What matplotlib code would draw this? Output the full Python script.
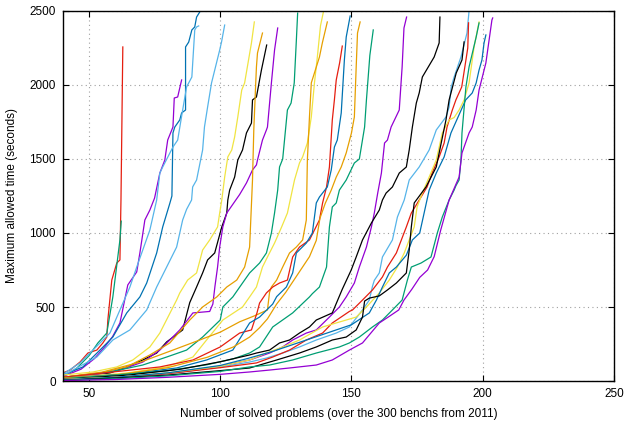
import numpy as np
import matplotlib.pyplot as plt

plt.rcParams['font.family'] = ['Liberation Sans', 'DejaVu Sans']

# Colores por defecto de gnuplot
PURPLE = '#9400d3'
GREEN = '#009e73'
SKY = '#56b4e9'
ORANGE = '#e69f00'
YELLOW = '#f0e442'
BLUE = '#0072b2'
RED = '#e51e10'
BLACK = '#000000'

# Curvas (numero de problemas resueltos, tiempo maximo en segundos)
red1_x = [40, 42.8, 46.6, 49.6, 53, 55.3, 56.8, 57.2, 58.7, 60.6, 61.8, 62.2, 62.9]
red1_y = [54, 74, 128, 189, 209, 257, 297, 412, 682, 797, 818, 1223, 2257]

green1_x = [40, 45, 50, 53.4, 56.8, 59.1, 61.8, 62.3]
green1_y = [30, 80, 170, 257, 324, 568, 953, 1080]

purple1_x = [40, 47, 52, 56, 59, 61.8, 64.8, 68.2, 69.4, 71.3, 73.2, 75, 77, 78.9, 80, 82, 82.5, 83.8, 85.3]
purple1_y = [30, 80, 150, 230, 300, 392, 649, 737, 865, 1088, 1155, 1236, 1405, 1493, 1628, 1716, 1912, 1919, 2034]

blue1_x = [40, 47.7, 54.2, 59.1, 64.4, 69.4, 72, 75.8, 78.1, 80.8, 81.6, 82, 82.7, 84.6, 85.3, 86.8, 86.8, 88, 89.2, 90.3, 91, 92.2]
blue1_y = [40, 95, 209, 297, 460, 568, 662, 865, 1041, 1200, 1250, 1676, 1716, 1764, 1811, 1831, 2257, 2290, 2372, 2392, 2459, 2493]

sky1_x = [40, 46.6, 51.5, 58, 61.8, 65.6, 68.2, 70.5, 73.2, 75.8, 77, 78.1, 82, 83.8, 85.7, 87.2, 89.2, 90.3, 91, 91.8]
sky1_y = [45, 122, 209, 324, 480, 635, 770, 885, 1020, 1223, 1405, 1446, 1581, 1628, 1831, 1987, 2054, 2372, 2392, 2399]

sky2_x = [40, 43.9, 53, 59.1, 65.6, 72, 75.8, 79.6, 83.4, 85.7, 87.2, 89.1, 89.5, 91, 93.3, 94, 95.2, 96.7, 99.8, 100.5, 101.7]
sky2_y = [35, 74, 162, 277, 345, 480, 635, 770, 905, 1088, 1160, 1223, 1311, 1358, 1561, 1716, 1851, 2014, 2236, 2290, 2405]

yellow1_x = [40, 51.5, 60.6, 66.7, 73.2, 77, 83.4, 84.6, 87.6, 91, 93.3, 96, 99, 99.8, 100.6, 101.7, 102.9, 104.4, 105.5, 106.7, 108.2, 109.3, 111.9, 113]
yellow1_y = [40, 61, 95, 142, 230, 324, 547, 595, 682, 730, 885, 953, 1041, 1135, 1223, 1378, 1514, 1561, 1649, 1784, 1966, 2014, 2284, 2426]

black1_x = [40, 58, 64.4, 70.5, 75.8, 79.6, 85.7, 88.4, 91, 93.3, 95.2, 97.9, 100.6, 102.5, 102.9, 103.6, 105.5, 106.7, 108.5, 110, 111.9, 112.3, 113.8, 115.7, 117.7]
black1_y = [25, 54, 95, 142, 189, 264, 345, 530, 635, 730, 818, 865, 1041, 1135, 1223, 1290, 1378, 1493, 1561, 1676, 1743, 1899, 1919, 2101, 2270]

purple2_x = [40, 51.5, 61.8, 70.5, 77, 84.6, 89.6, 96, 97.2, 98, 99, 99.8, 101, 102.5, 107.4, 110, 112.3, 113.8, 114.2, 116.1, 117.6, 118, 119.5, 120.7, 121.9]
purple2_y = [20, 40, 74, 128, 209, 345, 460, 470, 520, 640, 770, 905, 1041, 1135, 1260, 1338, 1426, 1460, 1493, 1628, 1696, 1716, 2014, 2236, 2385]

orange1_x = [40, 54.2, 64.4, 73.2, 80.8, 88.4, 92.2, 93.3, 98.7, 102.5, 106.3, 109.3, 111.2, 112.3, 112.8, 113.5, 113.8, 114.2, 116.1]
orange1_y = [25, 54, 95, 176, 257, 412, 480, 500, 568, 635, 682, 770, 905, 1358, 1700, 2000, 2122, 2216, 2351]

green2_x = [40, 58, 70.5, 79.6, 87.2, 93.3, 100, 101, 104.8, 108.5, 111.2, 115, 117.6, 119.5, 120.7, 121.9, 122.6, 123.8, 125.6, 127, 128.2, 129, 129.5]
green2_y = [25, 61, 108, 162, 209, 297, 412, 500, 568, 662, 730, 797, 865, 1000, 1135, 1290, 1446, 1500, 1831, 1878, 2014, 2300, 2486]

yellow2_x = [40, 64.4, 79.6, 89.6, 94.8, 101, 108.5, 111.2, 113.8, 116.1, 118, 120.7, 123.4, 125.6, 128.3, 130.2, 131.4, 133.2, 134.7, 135.9, 137, 138.2, 139.3]
yellow2_y = [20, 54, 95, 162, 277, 412, 500, 568, 635, 770, 838, 932, 1041, 1135, 1358, 1473, 1514, 1608, 1784, 2014, 2189, 2400, 2493]

orange2_x = [40, 55, 70, 82, 92.2, 100, 107.4, 113, 118, 118.8, 119.5, 121.5, 123.8, 126.4, 129, 131.4, 132.8, 133.2, 134, 134.7, 137.8, 138.9, 140.8]
orange2_y = [25, 60, 130, 209, 277, 330, 400, 440, 480, 600, 635, 682, 770, 865, 905, 953, 1088, 1493, 1784, 2014, 2189, 2284, 2426]

red2_x = [40, 59.1, 77, 89.6, 100, 107.4, 111.9, 114, 115, 117.6, 120, 122.6, 125.6, 127.6, 130.2, 134, 137.8, 139, 140.5, 141.6, 142.7, 143.5, 144.2, 145.5, 146.5]
red2_y = [25, 61, 95, 142, 230, 324, 345, 460, 527, 595, 635, 662, 682, 838, 905, 953, 1088, 1203, 1311, 1446, 1764, 1900, 2034, 2150, 2263]

blue2_x = [40, 64.4, 83.4, 94.8, 104.8, 111.2, 115, 120, 121.5, 125.2, 127.6, 129, 132.8, 135.1, 136.6, 137.8, 140.8, 142.3, 143.5, 144.6, 146.1, 147.3, 148, 149.5]
blue2_y = [20, 47, 88, 142, 209, 392, 432, 520, 570, 635, 730, 865, 932, 1000, 1203, 1243, 1311, 1426, 1581, 1628, 1811, 2169, 2324, 2466]

orange3_x = [40, 60, 80, 95, 105, 111.2, 115, 118, 121.5, 125, 128, 131, 134, 136.6, 138, 140, 142.3, 144.2, 146.1, 148, 150, 151.1, 151.8, 152.3, 153.3]
orange3_y = [20, 40, 90, 160, 230, 297, 360, 420, 520, 600, 680, 760, 840, 950, 1100, 1200, 1290, 1378, 1446, 1541, 1676, 1784, 2122, 2351, 2426]

green3_x = [40, 60, 80, 95, 105, 111.2, 115, 120, 127.6, 134, 135.1, 137.8, 140.5, 141.6, 142.7, 144.2, 145.4, 148, 151.1, 153, 155, 155.7, 156.2, 157, 158.3]
green3_y = [15, 40, 70, 110, 150, 189, 230, 365, 460, 568, 590, 635, 770, 1041, 1176, 1203, 1290, 1358, 1473, 1500, 1716, 1899, 2014, 2200, 2372]

purple3_x = [40, 65, 85, 100, 111.2, 118.8, 123.8, 127.6, 132.8, 136.6, 141.6, 145.4, 148, 151.1, 153, 155.7, 157.6, 158.7, 160, 161.4, 162.6, 163.7, 165.1, 168.2, 169.3, 170, 171]
purple3_y = [10, 30, 60, 100, 142, 189, 230, 277, 324, 345, 432, 500, 568, 662, 770, 905, 1041, 1135, 1270, 1405, 1608, 1628, 1716, 1831, 2122, 2385, 2459]

black3_x = [40, 65, 85, 100, 111.2, 113.8, 118.8, 122.6, 126.4, 130.2, 134, 136.6, 142.7, 146.5, 149.9, 151.8, 154.2, 157.6, 160.6, 161.8, 163.2, 165.6, 168.2, 170.9, 172, 173.2, 174.7, 175.8, 177, 181.5, 183.4, 183.7]
black3_y = [10, 40, 80, 130, 176, 189, 209, 257, 277, 324, 365, 412, 460, 620, 750, 838, 953, 1068, 1155, 1223, 1270, 1311, 1405, 1446, 1561, 1716, 1878, 1946, 2054, 2189, 2284, 2459]

sky4_x = [40, 65, 85, 100, 111.2, 117.6, 123.8, 130.2, 136.6, 144.2, 149.2, 154.2, 156.8, 158, 158.7, 160.6, 161.8, 165.6, 167.5, 170.1, 172, 175.8, 179.6, 182.3, 186, 187.2, 188, 189.1, 191.7, 194, 194.9]
sky4_y = [10, 30, 60, 95, 128, 155, 189, 230, 277, 324, 365, 480, 547, 640, 680, 730, 838, 953, 1108, 1223, 1358, 1446, 1561, 1696, 1784, 1851, 1987, 2054, 2189, 2351, 2520]

red4_x = [40, 60, 80, 100, 113.8, 120, 126.4, 132.8, 139, 142.7, 149.2, 150.4, 154.2, 158, 161.8, 163.7, 167.1, 169, 170.9, 172.8, 176.5, 178.8, 180.7, 183.4, 185.3, 186.4, 188.4, 189.8, 192, 193.6, 194.3, 194.6]
red4_y = [10, 25, 50, 90, 122, 162, 209, 277, 324, 392, 470, 480, 547, 615, 703, 770, 865, 953, 1041, 1135, 1243, 1311, 1405, 1514, 1608, 1716, 1830, 1900, 1987, 2169, 2250, 2420]

yellow4_x = [40, 60, 80, 100, 111.2, 117.6, 123.8, 130.2, 139, 151.8, 155.7, 160.6, 164.4, 167.5, 170.1, 172, 173.9, 175, 177, 179.6, 182.3, 184.6, 187.2, 189.1, 191, 192.9, 194.8, 196.7, 198.6]
yellow4_y = [10, 25, 55, 100, 142, 189, 230, 277, 365, 432, 500, 595, 682, 770, 865, 953, 1041, 1176, 1270, 1378, 1493, 1676, 1764, 1780, 1831, 1899, 2014, 2257, 2426]

blue4_x = [40, 60, 80, 100, 110, 120, 130, 140, 150, 156.8, 159.5, 161.8, 164.4, 167.1, 170.9, 173.2, 176, 179.6, 182.3, 185.3, 187.9, 193.5, 196, 197.5, 198.6, 199.7, 200.5, 201.2]
blue4_y = [8, 25, 55, 105, 150, 200, 260, 320, 380, 460, 547, 635, 730, 770, 850, 953, 1000, 1290, 1405, 1514, 1676, 1899, 1946, 2014, 2101, 2169, 2284, 2338]

black4_x = [40, 60, 80, 100, 111.2, 121.5, 130.2, 136.6, 142.7, 148, 151.8, 154.2, 155, 156.8, 160.6, 163.7, 167.1, 170.9, 172, 172.8, 173.9, 178.4, 182.3, 186, 187.2, 189.9, 192.1, 192.9]
black4_y = [5, 20, 40, 70, 88, 142, 189, 230, 277, 297, 345, 432, 540, 560, 575, 615, 662, 730, 885, 1041, 1203, 1311, 1446, 1764, 1899, 2081, 2169, 2291]

green4_x = [40, 60, 80, 100, 111.2, 118.8, 127.6, 136.6, 145.4, 149.2, 153, 158, 161.8, 165.6, 169.3, 171.3, 172.8, 176.5, 180.3, 182.7, 184.6, 187.2, 189.1, 189.8, 191, 191.7, 192.1, 193.6, 194.8, 197.5, 198.6]
green4_y = [5, 15, 35, 65, 95, 108, 142, 189, 230, 257, 297, 365, 412, 480, 547, 682, 770, 797, 838, 1000, 1108, 1223, 1290, 1320, 1358, 1493, 1676, 1987, 2122, 2324, 2419]

purple4_x = [40, 60, 80, 100, 111.2, 118.8, 126.4, 136.6, 142.7, 149.2, 154.2, 160.6, 164, 168, 170, 173, 176, 179, 181.5, 184, 187.2, 191, 192.1, 194.8, 196, 197.5, 198.6, 201.2, 203.5, 203.8]
purple4_y = [3, 10, 25, 45, 61, 74, 88, 108, 142, 209, 257, 392, 432, 480, 547, 620, 700, 750, 840, 1020, 1223, 1378, 1541, 1676, 1716, 1831, 1966, 2149, 2439, 2453]

curvas = [
    (red1_x, red1_y, RED), (green1_x, green1_y, GREEN), (purple1_x, purple1_y, PURPLE),
    (blue1_x, blue1_y, BLUE), (sky1_x, sky1_y, SKY), (sky2_x, sky2_y, SKY),
    (yellow1_x, yellow1_y, YELLOW), (black1_x, black1_y, BLACK), (purple2_x, purple2_y, PURPLE),
    (orange1_x, orange1_y, ORANGE), (green2_x, green2_y, GREEN), (yellow2_x, yellow2_y, YELLOW),
    (orange2_x, orange2_y, ORANGE), (red2_x, red2_y, RED), (blue2_x, blue2_y, BLUE),
    (orange3_x, orange3_y, ORANGE), (green3_x, green3_y, GREEN), (purple3_x, purple3_y, PURPLE),
    (black3_x, black3_y, BLACK), (sky4_x, sky4_y, SKY), (red4_x, red4_y, RED),
    (yellow4_x, yellow4_y, YELLOW), (blue4_x, blue4_y, BLUE), (black4_x, black4_y, BLACK),
    (green4_x, green4_y, GREEN), (purple4_x, purple4_y, PURPLE),
]

fig = plt.figure(figsize=(6.32, 4.21), dpi=100)
ax = fig.add_axes([0.0992, 0.095, 0.8723, 0.8789])

for x, y, c in curvas:
    ax.plot(x, y, color=c, linewidth=0.9)

ax.set_xlim(40, 250)
ax.set_ylim(0, 2500)
ax.set_xticks([50, 100, 150, 200, 250])
ax.set_yticks([0, 500, 1000, 1500, 2000, 2500])
ax.grid(True, color='#a0a0a0', linestyle=(0, (1, 3)), linewidth=0.8)
ax.set_axisbelow(True)

ax.tick_params(direction='in', top=True, right=True, length=4, width=0.8,
               labelsize=8.5, colors='black', pad=5)
for s in ax.spines.values():
    s.set_linewidth(1.0)

ax.set_xlabel('Number of solved problems (over the 300 benchs from 2011)', fontsize=8.5, labelpad=6)
ax.set_ylabel('Maximum allowed time (seconds)', fontsize=8.5, labelpad=8)

fig.savefig('out.png', dpi=100)
